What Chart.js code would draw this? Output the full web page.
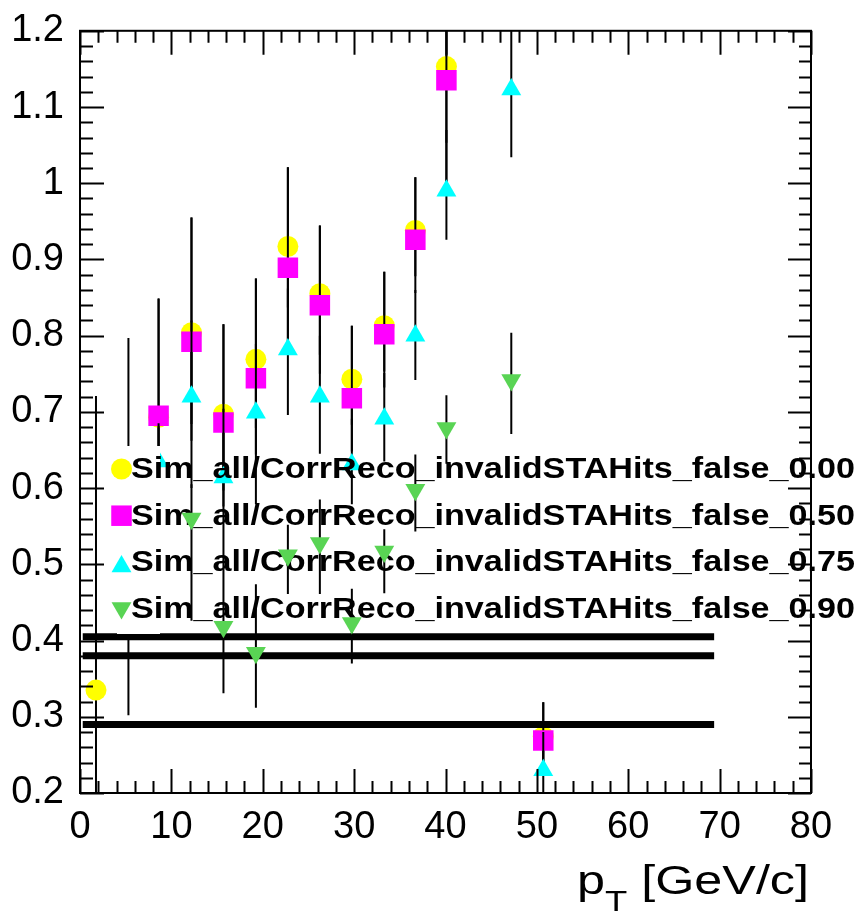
<!DOCTYPE html>
<html>
<head>
<meta charset="utf-8">
<title>Sim_all/CorrReco vs pT</title>
<script src="https://cdn.jsdelivr.net/npm/chart.js@4/dist/chart.umd.min.js"></script>
<style>
    html, body { margin: 0; padding: 0; background: #fff; }
    #chart { display: block; }
</style>
</head>
<body>
<canvas id="chart" width="863" height="912"></canvas>
<script>
// bin centres in pT
var ptBins = [1.75, 5.3, 8.6, 12.2, 15.7, 19.25, 22.75, 26.25, 29.75, 33.3, 36.7, 40.1, 47.2, 50.7];

// false_0.00
var eff000   = [0.335, 0.55, 0.693, 0.804, 0.697, 0.769, 0.917, 0.855, 0.743, 0.813, 0.938, 1.153, null, 0.274];
var eff000Lo = [0.20, 0.248, 0.15, 0.12, 0.10, 0.09, 0.08, 0.08, 0.06, 0.06, 0.06, 0.10, null, 0.04];
var eff000Hi = [0.386, 0.247, 0.155, 0.151, 0.118, 0.106, 0.104, 0.09, 0.07, 0.071, 0.07, 0.10, null, 0.045];

// false_0.50
var eff050   = [null, null, 0.695, 0.792, 0.686, 0.744, 0.889, 0.84, 0.718, 0.802, 0.926, 1.135, null, 0.269];
var eff050Lo = [null, null, 0.15, 0.13, 0.11, 0.10, 0.10, 0.09, 0.07, 0.07, 0.07, 0.145, null, 0.045];
var eff050Hi = [null, null, 0.154, 0.163, 0.129, 0.131, 0.132, 0.104, 0.095, 0.082, 0.082, 0.10, null, 0.05];

// false_0.75
var eff075   = [null, null, 0.635, 0.72, 0.614, 0.699, 0.782, 0.72, 0.631, 0.691, 0.80, 0.99, 1.123, 0.23];
var eff075Lo = [null, null, 0.05, 0.12, 0.11, 0.12, 0.086, 0.075, 0.052, 0.056, 0.058, 0.064, 0.089, 0.08];
var eff075Hi = [null, null, 0.05, 0.10, 0.09, 0.09, 0.08, 0.08, 0.06, 0.06, 0.06, 0.08, 0.10, 0.05];

// false_0.90
var eff090   = [null, null, null, 0.56, 0.418, 0.384, 0.512, 0.528, 0.423, 0.517, 0.598, 0.679, 0.742, null];
var eff090Lo = [null, null, null, 0.134, 0.087, 0.072, 0.051, 0.067, 0.053, 0.055, 0.055, 0.047, 0.071, null];
var eff090Hi = [null, null, null, 0.045, 0.087, 0.09, 0.04, 0.057, 0.045, 0.029, 0.046, 0.043, 0.062, null];

// thick horizontal reference lines
var flatLevels = [0.405, 0.38, 0.29];
var flatRange = [0.3, 69.4];

var xTickValues = [0, 10, 20, 30, 40, 50, 60, 70, 80];
var xTickLabels = ['0', '10', '20', '30', '40', '50', '60', '70', '80'];
var yTickValues = [0.2, 0.3, 0.4, 0.5, 0.6, 0.7, 0.8, 0.9, 1.0, 1.1, 1.2];
var yTickLabels = ['0.2', '0.3', '0.4', '0.5', '0.6', '0.7', '0.8', '0.9', '1', '1.1', '1.2'];

var legendLabels = [
    'Sim_all/CorrReco_invalidSTAHits_false_0.00',
    'Sim_all/CorrReco_invalidSTAHits_false_0.50',
    'Sim_all/CorrReco_invalidSTAHits_false_0.75',
    'Sim_all/CorrReco_invalidSTAHits_false_0.90'
];

var FONT = '"Liberation Sans", Arial, Helvetica, sans-serif';
var markers = [
    { style: 'circle',   radius: 10.5, rotation: 0,   color: '#ffff00' },
    { style: 'rect',     radius: 14.5, rotation: 0,   color: '#ff00ff' },
    { style: 'triangle', radius: 11.5, rotation: 0,   color: '#00ffff' },
    { style: 'triangle', radius: 11.5, rotation: 180, color: '#59d454' }
];

function buildPoints(values, lo, hi) {
    var pts = [];
    for (var i = 0; i < ptBins.length; i++) {
        if (values[i] === null) continue;
        pts.push({ x: ptBins[i], y: values[i], lo: lo[i], hi: hi[i] });
    }
    return pts;
}

function pointDataset(label, pts, m, order) {
    return {
        label: label,
        data: pts,
        pointStyle: m.style,
        pointRadius: m.radius,
        pointRotation: m.rotation,
        pointBackgroundColor: m.color,
        pointBorderWidth: 0,
        pointHoverRadius: m.radius,
        showLine: false,
        order: order,
        errorBars: true
    };
}

function drawMarker(ctx, m, x, y) {
    var r = m.radius;
    ctx.save();
    ctx.fillStyle = m.color;
    ctx.beginPath();
    if (m.style === 'circle') {
        ctx.arc(x, y, r, 0, Math.PI * 2);
    } else if (m.style === 'rect') {
        var s = r * Math.SQRT1_2;
        ctx.rect(x - s, y - s, 2 * s, 2 * s);
    } else {
        var rad = m.rotation * Math.PI / 180;
        ctx.moveTo(x + Math.sin(rad) * r, y - Math.cos(rad) * r);
        rad += 2 * Math.PI / 3;
        ctx.lineTo(x + Math.sin(rad) * r, y - Math.cos(rad) * r);
        rad += 2 * Math.PI / 3;
        ctx.lineTo(x + Math.sin(rad) * r, y - Math.cos(rad) * r);
        ctx.closePath();
    }
    ctx.fill();
    ctx.restore();
}

function drawErrorBars(chart, ds) {
    var ctx = chart.ctx, a = chart.chartArea;
    var xs = chart.scales.x, ys = chart.scales.y;
    ctx.save();
    ctx.beginPath();
    ctx.rect(a.left, a.top, a.right - a.left, a.bottom - a.top);
    ctx.clip();
    ctx.strokeStyle = '#000';
    ctx.lineWidth = 2;
    ds.data.forEach(function (p) {
        var px = xs.getPixelForValue(p.x);
        ctx.beginPath();
        ctx.moveTo(px, ys.getPixelForValue(p.y + p.hi));
        ctx.lineTo(px, ys.getPixelForValue(p.y - p.lo));
        ctx.stroke();
    });
    ctx.restore();
}

function drawLegend(chart) {
    var ctx = chart.ctx;
    // white pad behind the marker column
    ctx.save();
    ctx.fillStyle = '#fff';
    ctx.fillRect(117, 446, 43, 188);

    ctx.font = 'bold 29px ' + FONT;
    ctx.fillStyle = '#000';
    ctx.textAlign = 'left';
    ctx.textBaseline = 'alphabetic';
    var markerDy = [-9, -9, -5, -10];
    for (var i = 0; i < legendLabels.length; i++) {
        var base = 478 + i * 46.7;
        drawMarker(ctx, markers[i], 121.5, base + markerDy[i]);
        var w = ctx.measureText(legendLabels[i]).width;
        ctx.save();
        ctx.translate(131, base);
        ctx.scale(724 / w, 1);
        ctx.fillText(legendLabels[i], 0, 0);
        ctx.restore();
    }
    ctx.restore();
}

function drawFrame(chart) {
    var ctx = chart.ctx, a = chart.chartArea;
    var xs = chart.scales.x, ys = chart.scales.y;
    var i, px, py, len;
    ctx.save();
    ctx.strokeStyle = '#000';
    ctx.lineWidth = 2;
    ctx.beginPath();
    // x ticks every 2, major every 10
    for (i = 0; i <= 40; i++) {
        px = Math.round(xs.getPixelForValue(i * 2)) + 0.5;
        len = (i % 5 === 0) ? 24 : 12;
        ctx.moveTo(px, a.bottom); ctx.lineTo(px, a.bottom - len);
        ctx.moveTo(px, a.top); ctx.lineTo(px, a.top + len);
    }
    // y ticks every 0.02, major every 0.1
    for (i = 0; i <= 50; i++) {
        py = Math.round(ys.getPixelForValue(0.2 + i * 0.02)) + 0.5;
        len = (i % 5 === 0) ? 24 : 13;
        ctx.moveTo(a.left, py); ctx.lineTo(a.left + len, py);
        ctx.moveTo(a.right, py); ctx.lineTo(a.right - len + 1, py);
    }
    ctx.stroke();
    ctx.strokeRect(a.left, a.top, a.right - a.left, a.bottom - a.top);
    ctx.restore();
}

function drawAxisTitle(chart) {
    var ctx = chart.ctx;
    var bigFont = '40px ' + FONT;
    var subFont = '29px ' + FONT;
    ctx.save();
    ctx.font = bigFont;
    var wP = ctx.measureText('p').width;
    var wRest = ctx.measureText(' [GeV/c]').width;
    ctx.font = subFont;
    var wT = ctx.measureText('T').width;
    var sx = (809 - 577) / (wP + wT + wRest);
    ctx.translate(577, 0);
    ctx.scale(sx, 1);
    ctx.fillStyle = '#000';
    ctx.textAlign = 'left';
    ctx.textBaseline = 'alphabetic';
    ctx.font = bigFont;
    ctx.fillText('p', 0, 894);
    ctx.font = subFont;
    ctx.fillText('T', wP, 911);
    ctx.font = bigFont;
    ctx.fillText(' [GeV/c]', wP + wT, 894);
    ctx.restore();
}

var rootStyle = {
    id: 'rootStyle',
    beforeDatasetDraw: function (chart, args) {
        var ds = chart.data.datasets[args.index];
        if (ds.legendBefore) drawLegend(chart);
        if (ds.errorBars) drawErrorBars(chart, ds);
    },
    afterDatasetsDraw: function (chart) {
        drawFrame(chart);
        drawAxisTitle(chart);
    }
};

var datasets = [
    pointDataset(legendLabels[0], buildPoints(eff000, eff000Lo, eff000Hi), markers[0], 6),
    pointDataset(legendLabels[1], buildPoints(eff050, eff050Lo, eff050Hi), markers[1], 5),
    pointDataset(legendLabels[2], buildPoints(eff075, eff075Lo, eff075Hi), markers[2], 4)
];
flatLevels.forEach(function (lvl) {
    datasets.push({
        label: 'level ' + lvl,
        data: [{ x: flatRange[0], y: lvl }, { x: flatRange[1], y: lvl }],
        showLine: true,
        borderColor: '#000',
        borderWidth: 7,
        borderCapStyle: 'butt',
        pointRadius: 0,
        order: 3
    });
});
var last = pointDataset(legendLabels[3], buildPoints(eff090, eff090Lo, eff090Hi), markers[3], 1);
last.legendBefore = true;
datasets.push(last);

new Chart(document.getElementById('chart').getContext('2d'), {
    type: 'scatter',
    data: { datasets: datasets },
    options: {
        responsive: false,
        animation: false,
        events: [],
        layout: { padding: { top: 27, right: 52, left: 0, bottom: 0 } },
        plugins: {
            legend: { display: false },
            tooltip: { enabled: false }
        },
        scales: {
            x: {
                type: 'linear',
                min: 0,
                max: 80,
                afterBuildTicks: function (s) {
                    s.ticks = xTickValues.map(function (v) { return { value: v }; });
                },
                afterFit: function (s) { s.height = 119; },
                grid: { display: false },
                border: { display: false },
                ticks: {
                    autoSkip: false,
                    maxRotation: 0,
                    padding: 4,
                    color: '#000',
                    font: { family: FONT, size: 38 },
                    callback: function (v, i) { return xTickLabels[i]; }
                }
            },
            y: {
                type: 'linear',
                min: 0.2,
                max: 1.2,
                afterBuildTicks: function (s) {
                    s.ticks = yTickValues.map(function (v) { return { value: v }; });
                },
                afterFit: function (s) { s.width = 80; },
                grid: { display: false },
                border: { display: false },
                ticks: {
                    autoSkip: false,
                    padding: 8,
                    color: '#000',
                    font: { family: FONT, size: 38 },
                    callback: function (v, i) { return yTickLabels[i]; }
                }
            }
        }
    },
    plugins: [rootStyle]
});
</script>
</body>
</html>
